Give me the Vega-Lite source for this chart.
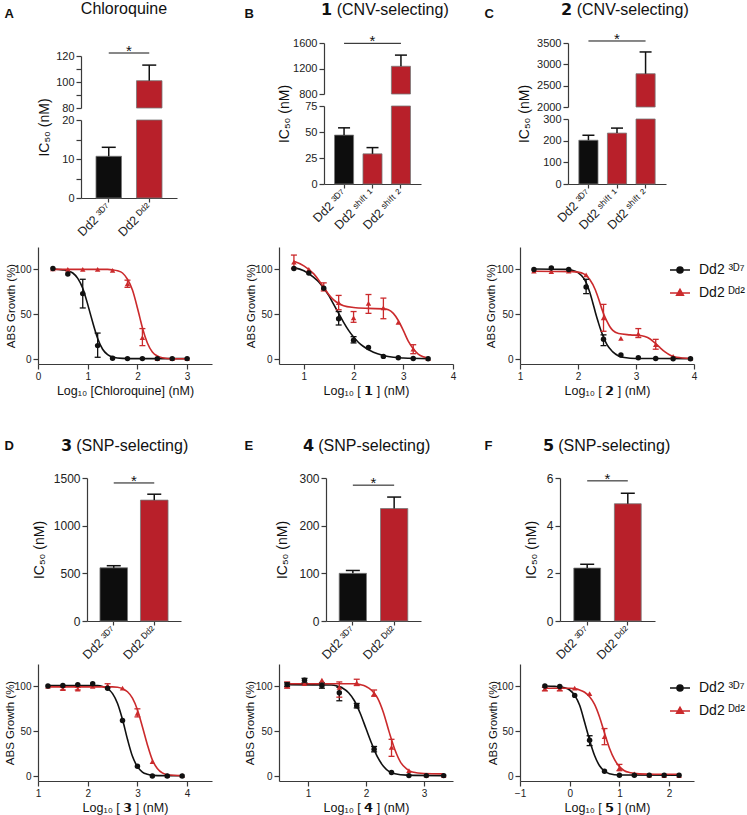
{
"$schema":"https://vega.github.io/schema/vega-lite/v6.json",
"padding":{"left":3,"top":0,"right":2,"bottom":2},
"config":{
 "font":"Liberation Sans",
 "view":{"stroke":null},
 "axis":{"grid":false,"domainColor":"#3a3a3a","domainWidth":1.2,"tickColor":"#3a3a3a","tickWidth":1.2,"tickSize":5,"labelColor":"#222","labelFont":"Liberation Sans","titleFont":"Liberation Sans","titleColor":"#111","titleFontWeight":"normal","labelFontSize":12},
 "text":{"font":"Liberation Sans"},
 "legend":{"labelFont":"Liberation Sans"}
},
"datasets":{
 "bars":[
  {"p":"A","s":"Dd2 ³ᴰ⁷","mean":10.7,"hi":13},
  {"p":"A","s":"Dd2 ᴰᵈ²","mean":101,"hi":113},
  {"p":"B","s":"Dd2 ³ᴰ⁷","mean":47,"hi":54},
  {"p":"B","s":"Dd2 ˢʰⁱᶠᵗ ¹","mean":29,"hi":35},
  {"p":"B","s":"Dd2 ˢʰⁱᶠᵗ ²","mean":1235,"hi":1410},
  {"p":"C","s":"Dd2 ³ᴰ⁷","mean":202,"hi":225},
  {"p":"C","s":"Dd2 ˢʰⁱᶠᵗ ¹","mean":235,"hi":258},
  {"p":"C","s":"Dd2 ˢʰⁱᶠᵗ ²","mean":2780,"hi":3290},
  {"p":"D","s":"Dd2 ³ᴰ⁷","mean":558,"hi":580},
  {"p":"D","s":"Dd2 ᴰᵈ²","mean":1268,"hi":1330},
  {"p":"E","s":"Dd2 ³ᴰ⁷","mean":100,"hi":106},
  {"p":"E","s":"Dd2 ᴰᵈ²","mean":236,"hi":260},
  {"p":"F","s":"Dd2 ³ᴰ⁷","mean":2.22,"hi":2.38},
  {"p":"F","s":"Dd2 ᴰᵈ²","mean":4.92,"hi":5.36}
 ],
 "sig":[
  {"p":"A","from":"Dd2 ³ᴰ⁷","to":"Dd2 ᴰᵈ²","y":122.3,"label":"*"},
  {"p":"B","from":"Dd2 ³ᴰ⁷","to":"Dd2 ˢʰⁱᶠᵗ ²","mid":"Dd2 ˢʰⁱᶠᵗ ¹","y":1595,"label":"*"},
  {"p":"C","from":"Dd2 ³ᴰ⁷","to":"Dd2 ˢʰⁱᶠᵗ ²","mid":"Dd2 ˢʰⁱᶠᵗ ¹","y":3547,"label":"*"},
  {"p":"D","from":"Dd2 ³ᴰ⁷","to":"Dd2 ᴰᵈ²","y":1448,"label":"*"},
  {"p":"E","from":"Dd2 ³ᴰ⁷","to":"Dd2 ᴰᵈ²","y":285,"label":"*"},
  {"p":"F","from":"Dd2 ³ᴰ⁷","to":"Dd2 ᴰᵈ²","y":5.88,"label":"*"}
 ],
 "fit":[
  {"p":"A","s":"Dd2 ³ᴰ⁷","x":0.3,"y":100.5},{"p":"A","s":"Dd2 ³ᴰ⁷","x":0.5,"y":99.5},{"p":"A","s":"Dd2 ³ᴰ⁷","x":0.6,"y":98.5},{"p":"A","s":"Dd2 ³ᴰ⁷","x":0.7,"y":96},{"p":"A","s":"Dd2 ³ᴰ⁷","x":0.8,"y":90},{"p":"A","s":"Dd2 ³ᴰ⁷","x":0.9,"y":79},{"p":"A","s":"Dd2 ³ᴰ⁷","x":1.0,"y":61},{"p":"A","s":"Dd2 ³ᴰ⁷","x":1.05,"y":51},{"p":"A","s":"Dd2 ³ᴰ⁷","x":1.1,"y":41},{"p":"A","s":"Dd2 ³ᴰ⁷","x":1.2,"y":23},{"p":"A","s":"Dd2 ³ᴰ⁷","x":1.3,"y":11},{"p":"A","s":"Dd2 ³ᴰ⁷","x":1.4,"y":5},{"p":"A","s":"Dd2 ³ᴰ⁷","x":1.5,"y":2.3},{"p":"A","s":"Dd2 ³ᴰ⁷","x":1.7,"y":0.8},{"p":"A","s":"Dd2 ³ᴰ⁷","x":2.0,"y":0.5},{"p":"A","s":"Dd2 ³ᴰ⁷","x":3.0,"y":0.5},
  {"p":"A","s":"Dd2 ᴰᵈ²","x":0.3,"y":100},{"p":"A","s":"Dd2 ᴰᵈ²","x":1.4,"y":100},{"p":"A","s":"Dd2 ᴰᵈ²","x":1.5,"y":99.5},{"p":"A","s":"Dd2 ᴰᵈ²","x":1.6,"y":98.5},{"p":"A","s":"Dd2 ᴰᵈ²","x":1.7,"y":96},{"p":"A","s":"Dd2 ᴰᵈ²","x":1.8,"y":89},{"p":"A","s":"Dd2 ᴰᵈ²","x":1.9,"y":77},{"p":"A","s":"Dd2 ᴰᵈ²","x":2.0,"y":57},{"p":"A","s":"Dd2 ᴰᵈ²","x":2.05,"y":46},{"p":"A","s":"Dd2 ᴰᵈ²","x":2.1,"y":35},{"p":"A","s":"Dd2 ᴰᵈ²","x":2.2,"y":18},{"p":"A","s":"Dd2 ᴰᵈ²","x":2.3,"y":8},{"p":"A","s":"Dd2 ᴰᵈ²","x":2.4,"y":3.5},{"p":"A","s":"Dd2 ᴰᵈ²","x":2.5,"y":1.5},{"p":"A","s":"Dd2 ᴰᵈ²","x":2.7,"y":0.4},{"p":"A","s":"Dd2 ᴰᵈ²","x":3.0,"y":0.3},
  {"p":"B","s":"Dd2 ³ᴰ⁷","x":0.8,"y":102},{"p":"B","s":"Dd2 ³ᴰ⁷","x":1.0,"y":98.5},{"p":"B","s":"Dd2 ³ᴰ⁷","x":1.2,"y":91},{"p":"B","s":"Dd2 ³ᴰ⁷","x":1.3,"y":86},{"p":"B","s":"Dd2 ³ᴰ⁷","x":1.4,"y":79},{"p":"B","s":"Dd2 ³ᴰ⁷","x":1.5,"y":71},{"p":"B","s":"Dd2 ³ᴰ⁷","x":1.6,"y":61},{"p":"B","s":"Dd2 ³ᴰ⁷","x":1.7,"y":51},{"p":"B","s":"Dd2 ³ᴰ⁷","x":1.8,"y":41},{"p":"B","s":"Dd2 ³ᴰ⁷","x":1.9,"y":32},{"p":"B","s":"Dd2 ³ᴰ⁷","x":2.0,"y":24.5},{"p":"B","s":"Dd2 ³ᴰ⁷","x":2.1,"y":18.5},{"p":"B","s":"Dd2 ³ᴰ⁷","x":2.2,"y":14},{"p":"B","s":"Dd2 ³ᴰ⁷","x":2.4,"y":7.5},{"p":"B","s":"Dd2 ³ᴰ⁷","x":2.6,"y":4},{"p":"B","s":"Dd2 ³ᴰ⁷","x":2.8,"y":2},{"p":"B","s":"Dd2 ³ᴰ⁷","x":3.0,"y":1.2},{"p":"B","s":"Dd2 ³ᴰ⁷","x":3.5,"y":0.5},
  {"p":"B","s":"Dd2 ᴰᵈ²","x":0.8,"y":109},{"p":"B","s":"Dd2 ᴰᵈ²","x":1.0,"y":104},{"p":"B","s":"Dd2 ᴰᵈ²","x":1.2,"y":95},{"p":"B","s":"Dd2 ᴰᵈ²","x":1.3,"y":88},{"p":"B","s":"Dd2 ᴰᵈ²","x":1.4,"y":80},{"p":"B","s":"Dd2 ᴰᵈ²","x":1.5,"y":72},{"p":"B","s":"Dd2 ᴰᵈ²","x":1.6,"y":66},{"p":"B","s":"Dd2 ᴰᵈ²","x":1.7,"y":62},{"p":"B","s":"Dd2 ᴰᵈ²","x":1.8,"y":59.5},{"p":"B","s":"Dd2 ᴰᵈ²","x":2.0,"y":57.5},{"p":"B","s":"Dd2 ᴰᵈ²","x":2.3,"y":56.5},{"p":"B","s":"Dd2 ᴰᵈ²","x":2.6,"y":56},{"p":"B","s":"Dd2 ᴰᵈ²","x":2.7,"y":55},{"p":"B","s":"Dd2 ᴰᵈ²","x":2.8,"y":51},{"p":"B","s":"Dd2 ᴰᵈ²","x":2.9,"y":43},{"p":"B","s":"Dd2 ᴰᵈ²","x":3.0,"y":32},{"p":"B","s":"Dd2 ᴰᵈ²","x":3.1,"y":20},{"p":"B","s":"Dd2 ᴰᵈ²","x":3.2,"y":11.5},{"p":"B","s":"Dd2 ᴰᵈ²","x":3.3,"y":5.5},{"p":"B","s":"Dd2 ᴰᵈ²","x":3.4,"y":2.5},{"p":"B","s":"Dd2 ᴰᵈ²","x":3.5,"y":1.2},
  {"p":"C","s":"Dd2 ³ᴰ⁷","x":1.24,"y":100.5},{"p":"C","s":"Dd2 ³ᴰ⁷","x":1.8,"y":100},{"p":"C","s":"Dd2 ³ᴰ⁷","x":1.9,"y":99},{"p":"C","s":"Dd2 ³ᴰ⁷","x":2.0,"y":96.5},{"p":"C","s":"Dd2 ³ᴰ⁷","x":2.1,"y":90},{"p":"C","s":"Dd2 ³ᴰ⁷","x":2.15,"y":84},{"p":"C","s":"Dd2 ³ᴰ⁷","x":2.2,"y":75},{"p":"C","s":"Dd2 ³ᴰ⁷","x":2.25,"y":64},{"p":"C","s":"Dd2 ³ᴰ⁷","x":2.3,"y":52},{"p":"C","s":"Dd2 ³ᴰ⁷","x":2.35,"y":41},{"p":"C","s":"Dd2 ³ᴰ⁷","x":2.4,"y":31},{"p":"C","s":"Dd2 ³ᴰ⁷","x":2.45,"y":23},{"p":"C","s":"Dd2 ³ᴰ⁷","x":2.5,"y":16},{"p":"C","s":"Dd2 ³ᴰ⁷","x":2.6,"y":8},{"p":"C","s":"Dd2 ³ᴰ⁷","x":2.7,"y":3.5},{"p":"C","s":"Dd2 ³ᴰ⁷","x":2.8,"y":1.7},{"p":"C","s":"Dd2 ³ᴰ⁷","x":3.0,"y":0.7},{"p":"C","s":"Dd2 ³ᴰ⁷","x":3.94,"y":0.5},
  {"p":"C","s":"Dd2 ᴰᵈ²","x":1.24,"y":98},{"p":"C","s":"Dd2 ᴰᵈ²","x":1.9,"y":97.5},{"p":"C","s":"Dd2 ᴰᵈ²","x":2.0,"y":97},{"p":"C","s":"Dd2 ᴰᵈ²","x":2.1,"y":95},{"p":"C","s":"Dd2 ᴰᵈ²","x":2.2,"y":89},{"p":"C","s":"Dd2 ᴰᵈ²","x":2.3,"y":77},{"p":"C","s":"Dd2 ᴰᵈ²","x":2.35,"y":68},{"p":"C","s":"Dd2 ᴰᵈ²","x":2.4,"y":58},{"p":"C","s":"Dd2 ᴰᵈ²","x":2.45,"y":49},{"p":"C","s":"Dd2 ᴰᵈ²","x":2.5,"y":42},{"p":"C","s":"Dd2 ᴰᵈ²","x":2.55,"y":36},{"p":"C","s":"Dd2 ᴰᵈ²","x":2.6,"y":32},{"p":"C","s":"Dd2 ᴰᵈ²","x":2.7,"y":28.5},{"p":"C","s":"Dd2 ᴰᵈ²","x":2.9,"y":27},{"p":"C","s":"Dd2 ᴰᵈ²","x":3.1,"y":26},{"p":"C","s":"Dd2 ᴰᵈ²","x":3.2,"y":24},{"p":"C","s":"Dd2 ᴰᵈ²","x":3.3,"y":19.5},{"p":"C","s":"Dd2 ᴰᵈ²","x":3.4,"y":13.5},{"p":"C","s":"Dd2 ᴰᵈ²","x":3.5,"y":8},{"p":"C","s":"Dd2 ᴰᵈ²","x":3.6,"y":4},{"p":"C","s":"Dd2 ᴰᵈ²","x":3.7,"y":2},{"p":"C","s":"Dd2 ᴰᵈ²","x":3.94,"y":0.7},
  {"p":"D","s":"Dd2 ³ᴰ⁷","x":1.2,"y":101},{"p":"D","s":"Dd2 ³ᴰ⁷","x":2.2,"y":101},{"p":"D","s":"Dd2 ³ᴰ⁷","x":2.3,"y":100},{"p":"D","s":"Dd2 ³ᴰ⁷","x":2.4,"y":97.5},{"p":"D","s":"Dd2 ³ᴰ⁷","x":2.5,"y":92},{"p":"D","s":"Dd2 ³ᴰ⁷","x":2.6,"y":81},{"p":"D","s":"Dd2 ³ᴰ⁷","x":2.7,"y":63},{"p":"D","s":"Dd2 ³ᴰ⁷","x":2.8,"y":41},{"p":"D","s":"Dd2 ³ᴰ⁷","x":2.9,"y":22},{"p":"D","s":"Dd2 ³ᴰ⁷","x":3.0,"y":10.5},{"p":"D","s":"Dd2 ³ᴰ⁷","x":3.1,"y":4.5},{"p":"D","s":"Dd2 ³ᴰ⁷","x":3.2,"y":2},{"p":"D","s":"Dd2 ³ᴰ⁷","x":3.3,"y":0.8},{"p":"D","s":"Dd2 ³ᴰ⁷","x":3.9,"y":0.3},
  {"p":"D","s":"Dd2 ᴰᵈ²","x":1.2,"y":99.5},{"p":"D","s":"Dd2 ᴰᵈ²","x":2.5,"y":99.5},{"p":"D","s":"Dd2 ᴰᵈ²","x":2.6,"y":99},{"p":"D","s":"Dd2 ᴰᵈ²","x":2.7,"y":97.5},{"p":"D","s":"Dd2 ᴰᵈ²","x":2.8,"y":94},{"p":"D","s":"Dd2 ᴰᵈ²","x":2.9,"y":87},{"p":"D","s":"Dd2 ᴰᵈ²","x":3.0,"y":74},{"p":"D","s":"Dd2 ᴰᵈ²","x":3.1,"y":55},{"p":"D","s":"Dd2 ᴰᵈ²","x":3.2,"y":35},{"p":"D","s":"Dd2 ᴰᵈ²","x":3.3,"y":18},{"p":"D","s":"Dd2 ᴰᵈ²","x":3.4,"y":8.5},{"p":"D","s":"Dd2 ᴰᵈ²","x":3.5,"y":3.5},{"p":"D","s":"Dd2 ᴰᵈ²","x":3.6,"y":1.5},{"p":"D","s":"Dd2 ᴰᵈ²","x":3.9,"y":0.5},
  {"p":"E","s":"Dd2 ³ᴰ⁷","x":0.64,"y":102},{"p":"E","s":"Dd2 ³ᴰ⁷","x":1.4,"y":101.5},{"p":"E","s":"Dd2 ³ᴰ⁷","x":1.5,"y":100.5},{"p":"E","s":"Dd2 ³ᴰ⁷","x":1.6,"y":98},{"p":"E","s":"Dd2 ³ᴰ⁷","x":1.7,"y":93},{"p":"E","s":"Dd2 ³ᴰ⁷","x":1.8,"y":84},{"p":"E","s":"Dd2 ³ᴰ⁷","x":1.9,"y":70},{"p":"E","s":"Dd2 ³ᴰ⁷","x":2.0,"y":53},{"p":"E","s":"Dd2 ³ᴰ⁷","x":2.1,"y":36},{"p":"E","s":"Dd2 ³ᴰ⁷","x":2.2,"y":21},{"p":"E","s":"Dd2 ³ᴰ⁷","x":2.3,"y":11},{"p":"E","s":"Dd2 ³ᴰ⁷","x":2.4,"y":5},{"p":"E","s":"Dd2 ³ᴰ⁷","x":2.5,"y":2.5},{"p":"E","s":"Dd2 ³ᴰ⁷","x":2.7,"y":1},{"p":"E","s":"Dd2 ³ᴰ⁷","x":3.34,"y":0.5},
  {"p":"E","s":"Dd2 ᴰᵈ²","x":0.64,"y":103},{"p":"E","s":"Dd2 ᴰᵈ²","x":1.8,"y":103},{"p":"E","s":"Dd2 ᴰᵈ²","x":1.9,"y":102},{"p":"E","s":"Dd2 ᴰᵈ²","x":2.0,"y":100},{"p":"E","s":"Dd2 ᴰᵈ²","x":2.1,"y":95.5},{"p":"E","s":"Dd2 ᴰᵈ²","x":2.2,"y":87},{"p":"E","s":"Dd2 ᴰᵈ²","x":2.3,"y":71},{"p":"E","s":"Dd2 ᴰᵈ²","x":2.4,"y":49},{"p":"E","s":"Dd2 ᴰᵈ²","x":2.5,"y":29},{"p":"E","s":"Dd2 ᴰᵈ²","x":2.6,"y":15},{"p":"E","s":"Dd2 ᴰᵈ²","x":2.7,"y":8},{"p":"E","s":"Dd2 ᴰᵈ²","x":2.8,"y":4.5},{"p":"E","s":"Dd2 ᴰᵈ²","x":3.0,"y":2.8},{"p":"E","s":"Dd2 ᴰᵈ²","x":3.34,"y":2.5},
  {"p":"F","s":"Dd2 ³ᴰ⁷","x":-0.5,"y":100.5},{"p":"F","s":"Dd2 ³ᴰ⁷","x":-0.3,"y":100},{"p":"F","s":"Dd2 ³ᴰ⁷","x":-0.1,"y":98.5},{"p":"F","s":"Dd2 ³ᴰ⁷","x":0,"y":96},{"p":"F","s":"Dd2 ³ᴰ⁷","x":0.1,"y":90},{"p":"F","s":"Dd2 ³ᴰ⁷","x":0.2,"y":79},{"p":"F","s":"Dd2 ³ᴰ⁷","x":0.3,"y":60},{"p":"F","s":"Dd2 ³ᴰ⁷","x":0.35,"y":50},{"p":"F","s":"Dd2 ³ᴰ⁷","x":0.4,"y":40},{"p":"F","s":"Dd2 ³ᴰ⁷","x":0.5,"y":23},{"p":"F","s":"Dd2 ³ᴰ⁷","x":0.6,"y":11.5},{"p":"F","s":"Dd2 ³ᴰ⁷","x":0.7,"y":5.5},{"p":"F","s":"Dd2 ³ᴰ⁷","x":0.8,"y":2.7},{"p":"F","s":"Dd2 ³ᴰ⁷","x":1.0,"y":1.2},{"p":"F","s":"Dd2 ³ᴰ⁷","x":2.2,"y":1},
  {"p":"F","s":"Dd2 ᴰᵈ²","x":-0.5,"y":98},{"p":"F","s":"Dd2 ᴰᵈ²","x":0,"y":98},{"p":"F","s":"Dd2 ᴰᵈ²","x":0.1,"y":97.5},{"p":"F","s":"Dd2 ᴰᵈ²","x":0.2,"y":96},{"p":"F","s":"Dd2 ᴰᵈ²","x":0.3,"y":93.5},{"p":"F","s":"Dd2 ᴰᵈ²","x":0.4,"y":88.5},{"p":"F","s":"Dd2 ᴰᵈ²","x":0.5,"y":80},{"p":"F","s":"Dd2 ᴰᵈ²","x":0.6,"y":66},{"p":"F","s":"Dd2 ᴰᵈ²","x":0.7,"y":48},{"p":"F","s":"Dd2 ᴰᵈ²","x":0.8,"y":31},{"p":"F","s":"Dd2 ᴰᵈ²","x":0.9,"y":18.5},{"p":"F","s":"Dd2 ᴰᵈ²","x":1.0,"y":10.5},{"p":"F","s":"Dd2 ᴰᵈ²","x":1.1,"y":6},{"p":"F","s":"Dd2 ᴰᵈ²","x":1.2,"y":4},{"p":"F","s":"Dd2 ᴰᵈ²","x":1.4,"y":2.5},{"p":"F","s":"Dd2 ᴰᵈ²","x":1.7,"y":2},{"p":"F","s":"Dd2 ᴰᵈ²","x":2.2,"y":2}
 ],
 "pts":[
  {"p":"A","s":"Dd2 ᴰᵈ²","x":0.3,"y":100.5},{"p":"A","s":"Dd2 ᴰᵈ²","x":0.6,"y":100},{"p":"A","s":"Dd2 ᴰᵈ²","x":0.9,"y":100},{"p":"A","s":"Dd2 ᴰᵈ²","x":1.2,"y":100},{"p":"A","s":"Dd2 ᴰᵈ²","x":1.5,"y":99},{"p":"A","s":"Dd2 ᴰᵈ²","x":1.8,"y":84,"lo":80,"hi":88},{"p":"A","s":"Dd2 ᴰᵈ²","x":2.1,"y":24,"lo":15,"hi":34},{"p":"A","s":"Dd2 ᴰᵈ²","x":2.4,"y":0.5},{"p":"A","s":"Dd2 ᴰᵈ²","x":2.7,"y":0.5},{"p":"A","s":"Dd2 ᴰᵈ²","x":3.0,"y":0.5},
  {"p":"A","s":"Dd2 ³ᴰ⁷","x":0.3,"y":101},{"p":"A","s":"Dd2 ³ᴰ⁷","x":0.6,"y":95},{"p":"A","s":"Dd2 ³ᴰ⁷","x":0.9,"y":73,"lo":57,"hi":89},{"p":"A","s":"Dd2 ³ᴰ⁷","x":1.2,"y":15,"lo":2,"hi":29},{"p":"A","s":"Dd2 ³ᴰ⁷","x":1.5,"y":1},{"p":"A","s":"Dd2 ³ᴰ⁷","x":1.8,"y":0.5},{"p":"A","s":"Dd2 ³ᴰ⁷","x":2.1,"y":0.5},{"p":"A","s":"Dd2 ³ᴰ⁷","x":2.4,"y":0.5},{"p":"A","s":"Dd2 ³ᴰ⁷","x":2.7,"y":0.5},{"p":"A","s":"Dd2 ³ᴰ⁷","x":3.0,"y":0.5},
  {"p":"B","s":"Dd2 ᴰᵈ²","x":0.8,"y":108,"lo":101,"hi":116},{"p":"B","s":"Dd2 ᴰᵈ²","x":1.1,"y":100},{"p":"B","s":"Dd2 ᴰᵈ²","x":1.4,"y":80,"lo":76,"hi":85},{"p":"B","s":"Dd2 ᴰᵈ²","x":1.7,"y":63,"lo":55,"hi":71},{"p":"B","s":"Dd2 ᴰᵈ²","x":2.0,"y":46,"lo":41,"hi":53},{"p":"B","s":"Dd2 ᴰᵈ²","x":2.3,"y":62,"lo":51,"hi":72},{"p":"B","s":"Dd2 ᴰᵈ²","x":2.6,"y":57,"lo":45,"hi":68},{"p":"B","s":"Dd2 ᴰᵈ²","x":2.9,"y":41},{"p":"B","s":"Dd2 ᴰᵈ²","x":3.2,"y":11,"lo":6,"hi":16},{"p":"B","s":"Dd2 ᴰᵈ²","x":3.5,"y":0.5},
  {"p":"B","s":"Dd2 ³ᴰ⁷","x":0.8,"y":101},{"p":"B","s":"Dd2 ³ᴰ⁷","x":1.1,"y":96},{"p":"B","s":"Dd2 ³ᴰ⁷","x":1.4,"y":79},{"p":"B","s":"Dd2 ³ᴰ⁷","x":1.7,"y":45,"lo":38,"hi":53},{"p":"B","s":"Dd2 ³ᴰ⁷","x":2.0,"y":21,"lo":18,"hi":25},{"p":"B","s":"Dd2 ³ᴰ⁷","x":2.3,"y":13},{"p":"B","s":"Dd2 ³ᴰ⁷","x":2.6,"y":3},{"p":"B","s":"Dd2 ³ᴰ⁷","x":2.9,"y":1.5},{"p":"B","s":"Dd2 ³ᴰ⁷","x":3.2,"y":0.7},{"p":"B","s":"Dd2 ³ᴰ⁷","x":3.5,"y":0.4},
  {"p":"C","s":"Dd2 ᴰᵈ²","x":1.24,"y":98},{"p":"C","s":"Dd2 ᴰᵈ²","x":1.54,"y":97.5},{"p":"C","s":"Dd2 ᴰᵈ²","x":1.84,"y":98},{"p":"C","s":"Dd2 ᴰᵈ²","x":2.14,"y":94},{"p":"C","s":"Dd2 ᴰᵈ²","x":2.44,"y":46,"lo":31,"hi":61},{"p":"C","s":"Dd2 ᴰᵈ²","x":2.74,"y":23},{"p":"C","s":"Dd2 ᴰᵈ²","x":3.04,"y":28,"lo":24,"hi":34},{"p":"C","s":"Dd2 ᴰᵈ²","x":3.34,"y":16,"lo":11,"hi":22},{"p":"C","s":"Dd2 ᴰᵈ²","x":3.64,"y":3},{"p":"C","s":"Dd2 ᴰᵈ²","x":3.94,"y":1},
  {"p":"C","s":"Dd2 ³ᴰ⁷","x":1.24,"y":100},{"p":"C","s":"Dd2 ³ᴰ⁷","x":1.54,"y":101.5},{"p":"C","s":"Dd2 ³ᴰ⁷","x":1.84,"y":100},{"p":"C","s":"Dd2 ³ᴰ⁷","x":2.14,"y":80.5,"lo":73,"hi":89},{"p":"C","s":"Dd2 ³ᴰ⁷","x":2.44,"y":22,"lo":15,"hi":27},{"p":"C","s":"Dd2 ³ᴰ⁷","x":2.74,"y":4.5},{"p":"C","s":"Dd2 ³ᴰ⁷","x":3.04,"y":1.5},{"p":"C","s":"Dd2 ³ᴰ⁷","x":3.34,"y":0.7},{"p":"C","s":"Dd2 ³ᴰ⁷","x":3.64,"y":0.4},{"p":"C","s":"Dd2 ³ᴰ⁷","x":3.94,"y":0.4},
  {"p":"D","s":"Dd2 ᴰᵈ²","x":1.2,"y":100},{"p":"D","s":"Dd2 ᴰᵈ²","x":1.5,"y":97.5,"lo":96,"hi":99},{"p":"D","s":"Dd2 ᴰᵈ²","x":1.8,"y":97,"lo":96,"hi":99},{"p":"D","s":"Dd2 ᴰᵈ²","x":2.1,"y":100},{"p":"D","s":"Dd2 ᴰᵈ²","x":2.4,"y":101,"lo":99,"hi":103},{"p":"D","s":"Dd2 ᴰᵈ²","x":2.7,"y":98},{"p":"D","s":"Dd2 ᴰᵈ²","x":3.0,"y":70,"lo":66,"hi":75},{"p":"D","s":"Dd2 ᴰᵈ²","x":3.3,"y":16},{"p":"D","s":"Dd2 ᴰᵈ²","x":3.6,"y":0.5},{"p":"D","s":"Dd2 ᴰᵈ²","x":3.9,"y":0.5},
  {"p":"D","s":"Dd2 ³ᴰ⁷","x":1.2,"y":100.5},{"p":"D","s":"Dd2 ³ᴰ⁷","x":1.5,"y":101},{"p":"D","s":"Dd2 ³ᴰ⁷","x":1.8,"y":102},{"p":"D","s":"Dd2 ³ᴰ⁷","x":2.1,"y":103},{"p":"D","s":"Dd2 ³ᴰ⁷","x":2.4,"y":98},{"p":"D","s":"Dd2 ³ᴰ⁷","x":2.7,"y":62},{"p":"D","s":"Dd2 ³ᴰ⁷","x":3.0,"y":11},{"p":"D","s":"Dd2 ³ᴰ⁷","x":3.3,"y":0},{"p":"D","s":"Dd2 ³ᴰ⁷","x":3.6,"y":0},{"p":"D","s":"Dd2 ³ᴰ⁷","x":3.9,"y":0},
  {"p":"E","s":"Dd2 ᴰᵈ²","x":0.64,"y":101,"lo":98,"hi":105},{"p":"E","s":"Dd2 ᴰᵈ²","x":0.94,"y":103},{"p":"E","s":"Dd2 ᴰᵈ²","x":1.24,"y":107},{"p":"E","s":"Dd2 ᴰᵈ²","x":1.54,"y":99,"lo":88,"hi":105},{"p":"E","s":"Dd2 ᴰᵈ²","x":1.84,"y":104,"lo":101,"hi":108},{"p":"E","s":"Dd2 ᴰᵈ²","x":2.14,"y":92,"lo":89,"hi":96},{"p":"E","s":"Dd2 ᴰᵈ²","x":2.44,"y":32,"lo":22,"hi":41},{"p":"E","s":"Dd2 ᴰᵈ²","x":2.74,"y":6},{"p":"E","s":"Dd2 ᴰᵈ²","x":3.04,"y":1},{"p":"E","s":"Dd2 ᴰᵈ²","x":3.34,"y":0.5},
  {"p":"E","s":"Dd2 ³ᴰ⁷","x":0.64,"y":102,"lo":100,"hi":104},{"p":"E","s":"Dd2 ³ᴰ⁷","x":0.94,"y":107,"lo":104,"hi":109},{"p":"E","s":"Dd2 ³ᴰ⁷","x":1.24,"y":101,"lo":98,"hi":104},{"p":"E","s":"Dd2 ³ᴰ⁷","x":1.54,"y":93,"lo":84,"hi":99},{"p":"E","s":"Dd2 ³ᴰ⁷","x":1.84,"y":78.5,"lo":76,"hi":81},{"p":"E","s":"Dd2 ³ᴰ⁷","x":2.14,"y":30,"lo":27,"hi":33},{"p":"E","s":"Dd2 ³ᴰ⁷","x":2.44,"y":4},{"p":"E","s":"Dd2 ³ᴰ⁷","x":2.74,"y":0.5},{"p":"E","s":"Dd2 ³ᴰ⁷","x":3.04,"y":0.5},{"p":"E","s":"Dd2 ³ᴰ⁷","x":3.34,"y":0.5},
  {"p":"F","s":"Dd2 ᴰᵈ²","x":-0.5,"y":97.5,"lo":95,"hi":99},{"p":"F","s":"Dd2 ᴰᵈ²","x":-0.2,"y":97.5,"lo":95,"hi":99},{"p":"F","s":"Dd2 ᴰᵈ²","x":0.1,"y":98},{"p":"F","s":"Dd2 ᴰᵈ²","x":0.4,"y":92},{"p":"F","s":"Dd2 ᴰᵈ²","x":0.7,"y":44,"lo":35,"hi":53},{"p":"F","s":"Dd2 ᴰᵈ²","x":1.0,"y":9,"lo":6,"hi":13},{"p":"F","s":"Dd2 ᴰᵈ²","x":1.3,"y":2.5},{"p":"F","s":"Dd2 ᴰᵈ²","x":1.6,"y":1},{"p":"F","s":"Dd2 ᴰᵈ²","x":1.9,"y":0.5},{"p":"F","s":"Dd2 ᴰᵈ²","x":2.2,"y":0.5},
  {"p":"F","s":"Dd2 ³ᴰ⁷","x":-0.5,"y":100.5},{"p":"F","s":"Dd2 ³ᴰ⁷","x":-0.2,"y":100},{"p":"F","s":"Dd2 ³ᴰ⁷","x":0.1,"y":90},{"p":"F","s":"Dd2 ³ᴰ⁷","x":0.4,"y":40,"lo":34,"hi":45},{"p":"F","s":"Dd2 ³ᴰ⁷","x":0.7,"y":5.5},{"p":"F","s":"Dd2 ³ᴰ⁷","x":1.0,"y":1},{"p":"F","s":"Dd2 ³ᴰ⁷","x":1.3,"y":1},{"p":"F","s":"Dd2 ³ᴰ⁷","x":1.6,"y":1},{"p":"F","s":"Dd2 ³ᴰ⁷","x":1.9,"y":1},{"p":"F","s":"Dd2 ³ᴰ⁷","x":2.2,"y":1}
 ]
},
"columns":3,
"spacing":{"row":43,"column":67},
"bounds":"flush",
"align":"each",
"resolve":{"scale":{"color":"independent","shape":"independent"}},
"concat":[
 {
  "width":174,"height":161,
  "resolve":{"scale":{"y":"independent"},"axis":{"y":"independent"}},
  "layer":[
   {"layer":[
    {"data":{"name":"bars"},"transform":[{"filter":"datum.p=='A' && datum.mean>80"}],"mark":{"type":"bar","stroke":"#777","strokeWidth":0.8},
     "encoding":{"x":{"field":"s","type":"nominal","scale":{"domain":["Dd2 ³ᴰ⁷","Dd2 ᴰᵈ²"],"range":[43,139],"paddingInner":0.37,"paddingOuter":0.37}},
      "y":{"field":"mean","type":"quantitative","scale":{"domain":[80,120],"range":[65,13],"nice":false,"zero":false},"axis":{"orient":"left","offset":-43,"values":[80,90,100,110,120],"labelExpr":"datum.value % 20 == 0 ? datum.label : ''","labelFontSize":11,"title":"Chloroquine","titleX":42.5,"titleY":-29.5,"titleAngle":0,"titleAlign":"center","titleBaseline":"alphabetic","titleFontSize":16}},
      "y2":{"datum":80},
      "color":{"field":"s","type":"nominal","scale":{"domain":["Dd2 ³ᴰ⁷","Dd2 ᴰᵈ²"],"range":["#0d0d0d","#b8202a"]},"legend":null}}},
    {"data":{"name":"bars"},"transform":[{"filter":"datum.p=='A' && datum.mean>80"}],"mark":{"type":"rule","color":"#111","strokeWidth":1.5},
     "encoding":{"x":{"field":"s","type":"nominal"},"y":{"field":"mean","type":"quantitative"},"y2":{"field":"hi"}}},
    {"data":{"name":"bars"},"transform":[{"filter":"datum.p=='A' && datum.mean>80"}],"mark":{"type":"rule","color":"#111","strokeWidth":1.5,"xOffset":-7,"x2Offset":7},
     "encoding":{"x":{"field":"s","type":"nominal"},"x2":{"field":"s"},"y":{"field":"hi","type":"quantitative"}}},
    {"data":{"name":"sig"},"transform":[{"filter":"datum.p=='A'"}],"mark":{"type":"rule","color":"#111","strokeWidth":1},
     "encoding":{"x":{"field":"from","type":"nominal"},"x2":{"field":"to"},"y":{"field":"y","type":"quantitative"}}},
    {"data":{"name":"sig"},"transform":[{"filter":"datum.p=='A'"}],"mark":{"type":"text","fontSize":15,"dy":3,"baseline":"alphabetic","color":"#111"},
     "encoding":{"x":{"field":"from","type":"nominal","bandPosition":1.294},"y":{"field":"y","type":"quantitative"},"text":{"field":"label"}}}
   ]},
   {"layer":[
    {"data":{"name":"bars"},"transform":[{"filter":"datum.p=='A'"}],"mark":{"type":"bar","stroke":"#777","strokeWidth":0.8},
     "encoding":{"x":{"field":"s","type":"nominal","scale":{"domain":["Dd2 ³ᴰ⁷","Dd2 ᴰᵈ²"],"range":[43,139],"paddingInner":0.37,"paddingOuter":0.37},"axis":{"offset":-6,"labelAngle":-45,"labelBaseline":"middle","labelFontSize":12.5,"labelPadding":3,"tickSize":4,"title":"A","titleX":-34,"titleY":-181,"titleAngle":0,"titleAlign":"left","titleBaseline":"alphabetic","titleFontWeight":"bold","titleFontSize":13}},
      "y":{"field":"mean","type":"quantitative","scale":{"domain":[0,20],"range":[155,77],"nice":false,"zero":false,"clamp":true},"axis":{"orient":"left","offset":-43,"values":[0,5,10,15,20],"labelExpr":"datum.value % 10 == 0 ? datum.label : ''","labelFontSize":11,"title":"IC₅₀ (nM)","titleFontSize":14,"titleX":-30,"titleY":84}},
      "color":{"field":"s","type":"nominal","scale":{"domain":["Dd2 ³ᴰ⁷","Dd2 ᴰᵈ²"],"range":["#0d0d0d","#b8202a"]},"legend":null}}},
    {"data":{"name":"bars"},"transform":[{"filter":"datum.p=='A' && datum.hi<=20"}],"mark":{"type":"rule","color":"#111","strokeWidth":1.5},
     "encoding":{"x":{"field":"s","type":"nominal"},"y":{"field":"mean","type":"quantitative"},"y2":{"field":"hi"}}},
    {"data":{"name":"bars"},"transform":[{"filter":"datum.p=='A' && datum.hi<=20"}],"mark":{"type":"rule","color":"#111","strokeWidth":1.5,"xOffset":-7,"x2Offset":7},
     "encoding":{"x":{"field":"s","type":"nominal"},"x2":{"field":"s"},"y":{"field":"hi","type":"quantitative"}}}
   ]}
  ]
 },
 {
  "width":174,"height":141,
  "resolve":{"scale":{"y":"independent"},"axis":{"y":"independent"}},
  "layer":[
   {"layer":[
    {"data":{"name":"bars"},"transform":[{"filter":"datum.p=='B' && datum.mean>800"}],"mark":{"type":"bar","stroke":"#777","strokeWidth":0.8},
     "encoding":{"x":{"field":"s","type":"nominal","scale":{"domain":["Dd2 ³ᴰ⁷","Dd2 ˢʰⁱᶠᵗ ¹","Dd2 ˢʰⁱᶠᵗ ²"],"range":[45,142],"paddingInner":0.33,"paddingOuter":0.37}},
      "y":{"field":"mean","type":"quantitative","scale":{"domain":[800,1600],"range":[51,0],"nice":false,"zero":false},"axis":{"orient":"left","offset":-45,"values":[800,1000,1200,1400,1600],"format":"d","labelExpr":"datum.value % 400 == 0 ? datum.label : ''","labelFontSize":11,"title":"𝟭 (CNV-selecting)","titleX":60.5,"titleY":-29,"titleAngle":0,"titleAlign":"center","titleBaseline":"alphabetic","titleFontSize":16}},
      "y2":{"datum":800},
      "color":{"field":"s","type":"nominal","scale":{"domain":["Dd2 ³ᴰ⁷","Dd2 ˢʰⁱᶠᵗ ¹","Dd2 ˢʰⁱᶠᵗ ²"],"range":["#0d0d0d","#b8202a","#b8202a"]},"legend":null}}},
    {"data":{"name":"bars"},"transform":[{"filter":"datum.p=='B' && datum.mean>800"}],"mark":{"type":"rule","color":"#111","strokeWidth":1.5},
     "encoding":{"x":{"field":"s","type":"nominal"},"y":{"field":"mean","type":"quantitative"},"y2":{"field":"hi"}}},
    {"data":{"name":"bars"},"transform":[{"filter":"datum.p=='B' && datum.mean>800"}],"mark":{"type":"rule","color":"#111","strokeWidth":1.5,"xOffset":-6,"x2Offset":6},
     "encoding":{"x":{"field":"s","type":"nominal"},"x2":{"field":"s"},"y":{"field":"hi","type":"quantitative"}}},
    {"data":{"name":"sig"},"transform":[{"filter":"datum.p=='B'"}],"mark":{"type":"rule","color":"#111","strokeWidth":1},
     "encoding":{"x":{"field":"from","type":"nominal"},"x2":{"field":"to"},"y":{"field":"y","type":"quantitative"}}},
    {"data":{"name":"sig"},"transform":[{"filter":"datum.p=='B'"}],"mark":{"type":"text","fontSize":15,"dy":3,"baseline":"alphabetic","color":"#111"},
     "encoding":{"x":{"field":"mid","type":"nominal"},"y":{"field":"y","type":"quantitative"},"text":{"field":"label"}}}
   ]},
   {"layer":[
    {"data":{"name":"bars"},"transform":[{"filter":"datum.p=='B'"}],"mark":{"type":"bar","stroke":"#777","strokeWidth":0.8},
     "encoding":{"x":{"field":"s","type":"nominal","scale":{"domain":["Dd2 ³ᴰ⁷","Dd2 ˢʰⁱᶠᵗ ¹","Dd2 ˢʰⁱᶠᵗ ²"],"range":[45,142],"paddingInner":0.33,"paddingOuter":0.37},"axis":{"labelAngle":-45,"labelBaseline":"middle","labelFontSize":12.5,"labelPadding":3,"tickSize":4,"title":"B","titleX":-35,"titleY":-167,"titleAngle":0,"titleAlign":"left","titleBaseline":"alphabetic","titleFontWeight":"bold","titleFontSize":13}},
      "y":{"field":"mean","type":"quantitative","scale":{"domain":[0,75],"range":[141,63],"nice":false,"zero":false,"clamp":true},"axis":{"orient":"left","offset":-45,"values":[0,25,50,75],"labelFontSize":11,"title":"IC₅₀ (nM)","titleFontSize":14,"titleX":-33,"titleY":70.5}},
      "color":{"field":"s","type":"nominal","scale":{"domain":["Dd2 ³ᴰ⁷","Dd2 ˢʰⁱᶠᵗ ¹","Dd2 ˢʰⁱᶠᵗ ²"],"range":["#0d0d0d","#b8202a","#b8202a"]},"legend":null}}},
    {"data":{"name":"bars"},"transform":[{"filter":"datum.p=='B' && datum.hi<=75"}],"mark":{"type":"rule","color":"#111","strokeWidth":1.5},
     "encoding":{"x":{"field":"s","type":"nominal"},"y":{"field":"mean","type":"quantitative"},"y2":{"field":"hi"}}},
    {"data":{"name":"bars"},"transform":[{"filter":"datum.p=='B' && datum.hi<=75"}],"mark":{"type":"rule","color":"#111","strokeWidth":1.5,"xOffset":-6,"x2Offset":6},
     "encoding":{"x":{"field":"s","type":"nominal"},"x2":{"field":"s"},"y":{"field":"hi","type":"quantitative"}}}
   ]}
  ]
 },
 {
  "width":174,"height":141,
  "resolve":{"scale":{"y":"independent"},"axis":{"y":"independent"}},
  "layer":[
   {"layer":[
    {"data":{"name":"bars"},"transform":[{"filter":"datum.p=='C' && datum.mean>2000"}],"mark":{"type":"bar","stroke":"#777","strokeWidth":0.8},
     "encoding":{"x":{"field":"s","type":"nominal","scale":{"domain":["Dd2 ³ᴰ⁷","Dd2 ˢʰⁱᶠᵗ ¹","Dd2 ˢʰⁱᶠᵗ ²"],"range":[48,146],"paddingInner":0.33,"paddingOuter":0.38}},
      "y":{"field":"mean","type":"quantitative","scale":{"domain":[2000,3500],"range":[64,0],"nice":false,"zero":false},"axis":{"orient":"left","offset":-48,"values":[2000,2250,2500,2750,3000,3250,3500],"format":"d","labelExpr":"datum.value % 500 == 0 ? datum.label : ''","labelFontSize":11,"title":"𝟮 (CNV-selecting)","titleX":56.5,"titleY":-29,"titleAngle":0,"titleAlign":"center","titleBaseline":"alphabetic","titleFontSize":16}},
      "y2":{"datum":2000},
      "color":{"field":"s","type":"nominal","scale":{"domain":["Dd2 ³ᴰ⁷","Dd2 ˢʰⁱᶠᵗ ¹","Dd2 ˢʰⁱᶠᵗ ²"],"range":["#0d0d0d","#b8202a","#b8202a"]},"legend":null}}},
    {"data":{"name":"bars"},"transform":[{"filter":"datum.p=='C' && datum.mean>2000"}],"mark":{"type":"rule","color":"#111","strokeWidth":1.5},
     "encoding":{"x":{"field":"s","type":"nominal"},"y":{"field":"mean","type":"quantitative"},"y2":{"field":"hi"}}},
    {"data":{"name":"bars"},"transform":[{"filter":"datum.p=='C' && datum.mean>2000"}],"mark":{"type":"rule","color":"#111","strokeWidth":1.5,"xOffset":-6,"x2Offset":6},
     "encoding":{"x":{"field":"s","type":"nominal"},"x2":{"field":"s"},"y":{"field":"hi","type":"quantitative"}}},
    {"data":{"name":"sig"},"transform":[{"filter":"datum.p=='C'"}],"mark":{"type":"rule","color":"#111","strokeWidth":1},
     "encoding":{"x":{"field":"from","type":"nominal"},"x2":{"field":"to"},"y":{"field":"y","type":"quantitative"}}},
    {"data":{"name":"sig"},"transform":[{"filter":"datum.p=='C'"}],"mark":{"type":"text","fontSize":15,"dy":3,"baseline":"alphabetic","color":"#111"},
     "encoding":{"x":{"field":"mid","type":"nominal"},"y":{"field":"y","type":"quantitative"},"text":{"field":"label"}}}
   ]},
   {"layer":[
    {"data":{"name":"bars"},"transform":[{"filter":"datum.p=='C'"}],"mark":{"type":"bar","stroke":"#777","strokeWidth":0.8},
     "encoding":{"x":{"field":"s","type":"nominal","scale":{"domain":["Dd2 ³ᴰ⁷","Dd2 ˢʰⁱᶠᵗ ¹","Dd2 ˢʰⁱᶠᵗ ²"],"range":[48,146],"paddingInner":0.33,"paddingOuter":0.38},"axis":{"labelAngle":-45,"labelBaseline":"middle","labelFontSize":12.5,"labelPadding":3,"tickSize":4,"title":"C","titleX":-36,"titleY":-167,"titleAngle":0,"titleAlign":"left","titleBaseline":"alphabetic","titleFontWeight":"bold","titleFontSize":13}},
      "y":{"field":"mean","type":"quantitative","scale":{"domain":[0,300],"range":[141,76],"nice":false,"zero":false,"clamp":true},"axis":{"orient":"left","offset":-48,"values":[0,50,100,150,200,250,300],"labelExpr":"datum.value % 100 == 0 ? datum.label : ''","labelFontSize":11,"title":"IC₅₀ (nM)","titleFontSize":14,"titleX":-37,"titleY":70.5}},
      "color":{"field":"s","type":"nominal","scale":{"domain":["Dd2 ³ᴰ⁷","Dd2 ˢʰⁱᶠᵗ ¹","Dd2 ˢʰⁱᶠᵗ ²"],"range":["#0d0d0d","#b8202a","#b8202a"]},"legend":null}}},
    {"data":{"name":"bars"},"transform":[{"filter":"datum.p=='C' && datum.hi<=300"}],"mark":{"type":"rule","color":"#111","strokeWidth":1.5},
     "encoding":{"x":{"field":"s","type":"nominal"},"y":{"field":"mean","type":"quantitative"},"y2":{"field":"hi"}}},
    {"data":{"name":"bars"},"transform":[{"filter":"datum.p=='C' && datum.hi<=300"}],"mark":{"type":"rule","color":"#111","strokeWidth":1.5,"xOffset":-6,"x2Offset":6},
     "encoding":{"x":{"field":"s","type":"nominal"},"x2":{"field":"s"},"y":{"field":"hi","type":"quantitative"}}}
   ]}
  ]
 },
 {
  "width":174,"height":117,
  "encoding":{
   "x":{"field":"x","type":"quantitative","scale":{"domain":[0,3.5],"nice":false,"zero":false},"axis":{"values":[0,1,2,3],"labelFlush":false,"labelFontSize":10,"labelPadding":2,"title":"Log₁₀ [Chloroquine] (nM)","titleFontSize":12.5,"titlePadding":3}},
   "y":{"field":"y","type":"quantitative","scale":{"domain":[-5.5,125],"nice":false,"zero":false},"axis":{"values":[0,50,100],"labelFontSize":10,"labelPadding":2,"title":"ABS Growth (%)","titleFontSize":11.5,"titleX":-22}},
   "color":{"field":"s","type":"nominal","scale":{"domain":["Dd2 ³ᴰ⁷","Dd2 ᴰᵈ²"],"range":["#111111","#cb2a2c"]},"legend":null}
  },
  "layer":[
   {"data":{"name":"fit"},"transform":[{"filter":"datum.p=='A'"}],"mark":{"type":"line","interpolate":"monotone","strokeWidth":1.6}},
   {"data":{"name":"pts"},"transform":[{"filter":"datum.p=='A' && datum.lo != null"}],"mark":{"type":"rule","strokeWidth":1.3},"encoding":{"y":{"field":"lo","type":"quantitative"},"y2":{"field":"hi"}}},
   {"data":{"name":"pts"},"transform":[{"filter":"datum.p=='A' && datum.lo != null"}],"mark":{"type":"rule","strokeWidth":1.3,"xOffset":-3,"x2Offset":3},"encoding":{"x2":{"field":"x"},"y":{"field":"lo","type":"quantitative"}}},
   {"data":{"name":"pts"},"transform":[{"filter":"datum.p=='A' && datum.lo != null"}],"mark":{"type":"rule","strokeWidth":1.3,"xOffset":-3,"x2Offset":3},"encoding":{"x2":{"field":"x"},"y":{"field":"hi","type":"quantitative"}}},
   {"data":{"name":"pts"},"transform":[{"filter":"datum.p=='A' && datum.s=='Dd2 ᴰᵈ²'"}],"mark":{"type":"point","shape":"triangle-up","filled":true,"size":30,"opacity":1}},
   {"data":{"name":"pts"},"transform":[{"filter":"datum.p=='A' && datum.s=='Dd2 ³ᴰ⁷'"}],"mark":{"type":"point","shape":"circle","filled":true,"size":30,"opacity":1}}
  ]
 },
 {
  "width":174,"height":117,
  "encoding":{
   "x":{"field":"x","type":"quantitative","scale":{"domain":[0.5,4],"nice":false,"zero":false},"axis":{"values":[1,2,3,4],"labelFlush":false,"labelFontSize":10,"labelPadding":2,"title":"Log₁₀ [ 𝟭 ] (nM)","titleFontSize":12.5,"titlePadding":3}},
   "y":{"field":"y","type":"quantitative","scale":{"domain":[-5.5,125],"nice":false,"zero":false},"axis":{"values":[0,50,100],"labelFontSize":10,"labelPadding":2,"title":"ABS Growth (%)","titleFontSize":11.5,"titleX":-23}},
   "color":{"field":"s","type":"nominal","scale":{"domain":["Dd2 ³ᴰ⁷","Dd2 ᴰᵈ²"],"range":["#111111","#cb2a2c"]},"legend":null}
  },
  "layer":[
   {"data":{"name":"fit"},"transform":[{"filter":"datum.p=='B'"}],"mark":{"type":"line","interpolate":"monotone","strokeWidth":1.6}},
   {"data":{"name":"pts"},"transform":[{"filter":"datum.p=='B' && datum.lo != null"}],"mark":{"type":"rule","strokeWidth":1.3},"encoding":{"y":{"field":"lo","type":"quantitative"},"y2":{"field":"hi"}}},
   {"data":{"name":"pts"},"transform":[{"filter":"datum.p=='B' && datum.lo != null"}],"mark":{"type":"rule","strokeWidth":1.3,"xOffset":-3,"x2Offset":3},"encoding":{"x2":{"field":"x"},"y":{"field":"lo","type":"quantitative"}}},
   {"data":{"name":"pts"},"transform":[{"filter":"datum.p=='B' && datum.lo != null"}],"mark":{"type":"rule","strokeWidth":1.3,"xOffset":-3,"x2Offset":3},"encoding":{"x2":{"field":"x"},"y":{"field":"hi","type":"quantitative"}}},
   {"data":{"name":"pts"},"transform":[{"filter":"datum.p=='B' && datum.s=='Dd2 ᴰᵈ²'"}],"mark":{"type":"point","shape":"triangle-up","filled":true,"size":30,"opacity":1}},
   {"data":{"name":"pts"},"transform":[{"filter":"datum.p=='B' && datum.s=='Dd2 ³ᴰ⁷'"}],"mark":{"type":"point","shape":"circle","filled":true,"size":30,"opacity":1}}
  ]
 },
 {
  "width":174,"height":117,
  "encoding":{
   "x":{"field":"x","type":"quantitative","scale":{"domain":[1,4],"nice":false,"zero":false},"axis":{"values":[1,2,3,4],"labelFlush":false,"labelFontSize":10,"labelPadding":2,"title":"Log₁₀ [ 𝟮 ] (nM)","titleFontSize":12.5,"titlePadding":3}},
   "y":{"field":"y","type":"quantitative","scale":{"domain":[-5.5,125],"nice":false,"zero":false},"axis":{"values":[0,50,100],"labelFontSize":10,"labelPadding":2,"title":"ABS Growth (%)","titleFontSize":11.5,"titleX":-24}},
   "color":{"field":"s","type":"nominal","scale":{"domain":["Dd2 ³ᴰ⁷","Dd2 ᴰᵈ²"],"range":["#111111","#cb2a2c"]},"legend":{"orient":"none","legendX":149,"legendY":12,"title":null,"symbolSize":400,"labelFontSize":14,"labelColor":"#111","labelOffset":8,"rowPadding":5,"padding":0,"encode":{"symbols":{"update":{"shape":{"signal":"datum.index === 0 ? 'M-1,0H1M0.3,0A0.3,0.3 0 1 1 -0.3,0A0.3,0.3 0 1 1 0.3,0Z' : 'M-1,0H1M0,-0.36L0.33,0.22L-0.33,0.22Z'"},"fill":{"signal":"datum.index === 0 ? '#111111' : '#cb2a2c'"},"stroke":{"signal":"datum.index === 0 ? '#111111' : '#cb2a2c'"},"strokeWidth":{"value":1.6},"opacity":{"value":1}}}}}}
  },
  "layer":[
   {"data":{"name":"fit"},"transform":[{"filter":"datum.p=='C'"}],"mark":{"type":"line","interpolate":"monotone","strokeWidth":1.6}},
   {"data":{"name":"pts"},"transform":[{"filter":"datum.p=='C' && datum.lo != null"}],"mark":{"type":"rule","strokeWidth":1.3},"encoding":{"y":{"field":"lo","type":"quantitative"},"y2":{"field":"hi"}}},
   {"data":{"name":"pts"},"transform":[{"filter":"datum.p=='C' && datum.lo != null"}],"mark":{"type":"rule","strokeWidth":1.3,"xOffset":-3,"x2Offset":3},"encoding":{"x2":{"field":"x"},"y":{"field":"lo","type":"quantitative"}}},
   {"data":{"name":"pts"},"transform":[{"filter":"datum.p=='C' && datum.lo != null"}],"mark":{"type":"rule","strokeWidth":1.3,"xOffset":-3,"x2Offset":3},"encoding":{"x2":{"field":"x"},"y":{"field":"hi","type":"quantitative"}}},
   {"data":{"name":"pts"},"transform":[{"filter":"datum.p=='C' && datum.s=='Dd2 ᴰᵈ²'"}],"mark":{"type":"point","shape":"triangle-up","filled":true,"size":30,"opacity":1}},
   {"data":{"name":"pts"},"transform":[{"filter":"datum.p=='C' && datum.s=='Dd2 ³ᴰ⁷'"}],"mark":{"type":"point","shape":"circle","filled":true,"size":30,"opacity":1}}
  ]
 },
 {
  "width":174,"height":214,
  "resolve":{"scale":{"y":"independent"},"axis":{"y":"independent"}},
  "layer":[
   {"layer":[
    {"data":{"name":"bars"},"transform":[{"filter":"datum.p=='D'"}],"mark":{"type":"bar","stroke":"#777","strokeWidth":0.8},
     "encoding":{"x":{"field":"s","type":"nominal","scale":{"domain":["Dd2 ³ᴰ⁷","Dd2 ᴰᵈ²"],"range":[49,143],"paddingInner":0.32,"paddingOuter":0.32},"axis":{"labelAngle":-45,"labelBaseline":"middle","labelFontSize":12.5,"labelPadding":3,"tickSize":4,"title":"D","titleX":-34,"titleY":-172,"titleAngle":0,"titleAlign":"left","titleBaseline":"alphabetic","titleFontWeight":"bold","titleFontSize":13}},
      "y":{"field":"mean","type":"quantitative","scale":{"domain":[0,1500],"range":[214,71],"nice":false,"zero":false},"axis":{"orient":"left","offset":-49,"values":[0,250,500,750,1000,1250,1500],"format":"d","labelExpr":"datum.value % 500 == 0 ? datum.label : ''","title":"IC₅₀ (nM)","titleFontSize":14,"titleX":-41,"titleY":142.5}},
      "color":{"field":"s","type":"nominal","scale":{"domain":["Dd2 ³ᴰ⁷","Dd2 ᴰᵈ²"],"range":["#0d0d0d","#b8202a"]},"legend":null}}},
    {"data":{"name":"bars"},"transform":[{"filter":"datum.p=='D'"}],"mark":{"type":"rule","color":"#111","strokeWidth":1.5},
     "encoding":{"x":{"field":"s","type":"nominal"},"y":{"field":"mean","type":"quantitative"},"y2":{"field":"hi"}}},
    {"data":{"name":"bars"},"transform":[{"filter":"datum.p=='D'"}],"mark":{"type":"rule","color":"#111","strokeWidth":1.5,"xOffset":-7,"x2Offset":7},
     "encoding":{"x":{"field":"s","type":"nominal"},"x2":{"field":"s"},"y":{"field":"hi","type":"quantitative"}}}
   ]},
   {"layer":[
    {"data":{"name":"sig"},"transform":[{"filter":"datum.p=='D'"}],"mark":{"type":"rule","color":"#111","strokeWidth":1},
     "encoding":{"x":{"field":"from","type":"nominal"},"x2":{"field":"to"},"y":{"field":"y","type":"quantitative","scale":{"domain":[0,1500],"range":[214,71],"nice":false,"zero":false},"axis":{"orient":"left","offset":-49,"domain":false,"ticks":false,"labels":false,"title":"𝟯 (SNP-selecting)","titleX":37,"titleY":43,"titleAngle":0,"titleAlign":"center","titleBaseline":"alphabetic","titleFontSize":16}}}},
    {"data":{"name":"sig"},"transform":[{"filter":"datum.p=='D'"}],"mark":{"type":"text","fontSize":15,"dy":3,"baseline":"alphabetic","color":"#111"},
     "encoding":{"x":{"field":"from","type":"nominal","bandPosition":1.235},"y":{"field":"y","type":"quantitative"},"text":{"field":"label"}}}
   ]}
  ]
 },
 {
  "width":174,"height":214,
  "resolve":{"scale":{"y":"independent"},"axis":{"y":"independent"}},
  "layer":[
   {"layer":[
    {"data":{"name":"bars"},"transform":[{"filter":"datum.p=='E'"}],"mark":{"type":"bar","stroke":"#777","strokeWidth":0.8},
     "encoding":{"x":{"field":"s","type":"nominal","scale":{"domain":["Dd2 ³ᴰ⁷","Dd2 ᴰᵈ²"],"range":[47,142],"paddingInner":0.34,"paddingOuter":0.32},"axis":{"labelAngle":-45,"labelBaseline":"middle","labelFontSize":12.5,"labelPadding":3,"tickSize":4,"title":"E","titleX":-35,"titleY":-172,"titleAngle":0,"titleAlign":"left","titleBaseline":"alphabetic","titleFontWeight":"bold","titleFontSize":13}},
      "y":{"field":"mean","type":"quantitative","scale":{"domain":[0,300],"range":[214,71],"nice":false,"zero":false},"axis":{"orient":"left","offset":-47,"values":[0,50,100,150,200,250,300],"labelExpr":"datum.value % 100 == 0 ? datum.label : ''","title":"IC₅₀ (nM)","titleFontSize":14,"titleX":-37,"titleY":142.5}},
      "color":{"field":"s","type":"nominal","scale":{"domain":["Dd2 ³ᴰ⁷","Dd2 ᴰᵈ²"],"range":["#0d0d0d","#b8202a"]},"legend":null}}},
    {"data":{"name":"bars"},"transform":[{"filter":"datum.p=='E'"}],"mark":{"type":"rule","color":"#111","strokeWidth":1.5},
     "encoding":{"x":{"field":"s","type":"nominal"},"y":{"field":"mean","type":"quantitative"},"y2":{"field":"hi"}}},
    {"data":{"name":"bars"},"transform":[{"filter":"datum.p=='E'"}],"mark":{"type":"rule","color":"#111","strokeWidth":1.5,"xOffset":-7,"x2Offset":7},
     "encoding":{"x":{"field":"s","type":"nominal"},"x2":{"field":"s"},"y":{"field":"hi","type":"quantitative"}}}
   ]},
   {"layer":[
    {"data":{"name":"sig"},"transform":[{"filter":"datum.p=='E'"}],"mark":{"type":"rule","color":"#111","strokeWidth":1},
     "encoding":{"x":{"field":"from","type":"nominal"},"x2":{"field":"to"},"y":{"field":"y","type":"quantitative","scale":{"domain":[0,300],"range":[214,71],"nice":false,"zero":false},"axis":{"orient":"left","offset":-47,"domain":false,"ticks":false,"labels":false,"title":"𝟰 (SNP-selecting)","titleX":40,"titleY":43,"titleAngle":0,"titleAlign":"center","titleBaseline":"alphabetic","titleFontSize":16}}}},
    {"data":{"name":"sig"},"transform":[{"filter":"datum.p=='E'"}],"mark":{"type":"text","fontSize":15,"dy":3,"baseline":"alphabetic","color":"#111"},
     "encoding":{"x":{"field":"from","type":"nominal","bandPosition":1.258},"y":{"field":"y","type":"quantitative"},"text":{"field":"label"}}}
   ]}
  ]
 },
 {
  "width":174,"height":214,
  "resolve":{"scale":{"y":"independent"},"axis":{"y":"independent"}},
  "layer":[
   {"layer":[
    {"data":{"name":"bars"},"transform":[{"filter":"datum.p=='F'"}],"mark":{"type":"bar","stroke":"#777","strokeWidth":0.8},
     "encoding":{"x":{"field":"s","type":"nominal","scale":{"domain":["Dd2 ³ᴰ⁷","Dd2 ᴰᵈ²"],"range":[40,135],"paddingInner":0.34,"paddingOuter":0.34},"axis":{"labelAngle":-45,"labelBaseline":"middle","labelFontSize":12.5,"labelPadding":3,"tickSize":4,"title":"F","titleX":-36,"titleY":-172,"titleAngle":0,"titleAlign":"left","titleBaseline":"alphabetic","titleFontWeight":"bold","titleFontSize":13}},
      "y":{"field":"mean","type":"quantitative","scale":{"domain":[0,6],"range":[214,71],"nice":false,"zero":false},"axis":{"orient":"left","offset":-40,"values":[0,1,2,3,4,5,6],"labelExpr":"datum.value % 2 == 0 ? datum.label : ''","title":"IC₅₀ (nM)","titleFontSize":14,"titleX":-22,"titleY":142.5}},
      "color":{"field":"s","type":"nominal","scale":{"domain":["Dd2 ³ᴰ⁷","Dd2 ᴰᵈ²"],"range":["#0d0d0d","#b8202a"]},"legend":null}}},
    {"data":{"name":"bars"},"transform":[{"filter":"datum.p=='F'"}],"mark":{"type":"rule","color":"#111","strokeWidth":1.5},
     "encoding":{"x":{"field":"s","type":"nominal"},"y":{"field":"mean","type":"quantitative"},"y2":{"field":"hi"}}},
    {"data":{"name":"bars"},"transform":[{"filter":"datum.p=='F'"}],"mark":{"type":"rule","color":"#111","strokeWidth":1.5,"xOffset":-7,"x2Offset":7},
     "encoding":{"x":{"field":"s","type":"nominal"},"x2":{"field":"s"},"y":{"field":"hi","type":"quantitative"}}}
   ]},
   {"layer":[
    {"data":{"name":"sig"},"transform":[{"filter":"datum.p=='F'"}],"mark":{"type":"rule","color":"#111","strokeWidth":1},
     "encoding":{"x":{"field":"from","type":"nominal"},"x2":{"field":"to"},"y":{"field":"y","type":"quantitative","scale":{"domain":[0,6],"range":[214,71],"nice":false,"zero":false},"axis":{"orient":"left","offset":-40,"domain":false,"ticks":false,"labels":false,"title":"𝟱 (SNP-selecting)","titleX":46,"titleY":43,"titleAngle":0,"titleAlign":"center","titleBaseline":"alphabetic","titleFontSize":16}}}},
    {"data":{"name":"sig"},"transform":[{"filter":"datum.p=='F'"}],"mark":{"type":"text","fontSize":15,"dy":3,"baseline":"alphabetic","color":"#111"},
     "encoding":{"x":{"field":"from","type":"nominal","bandPosition":1.258},"y":{"field":"y","type":"quantitative"},"text":{"field":"label"}}}
   ]}
  ]
 },
 {
  "width":174,"height":117,
  "encoding":{
   "x":{"field":"x","type":"quantitative","scale":{"domain":[1,4.5],"nice":false,"zero":false},"axis":{"values":[1,2,3,4],"labelFlush":false,"labelFontSize":10,"labelPadding":2,"title":"Log₁₀ [ 𝟯 ] (nM)","titleFontSize":12.5,"titlePadding":3}},
   "y":{"field":"y","type":"quantitative","scale":{"domain":[-5.5,125],"nice":false,"zero":false},"axis":{"values":[0,50,100],"labelFontSize":10,"labelPadding":2,"title":"ABS Growth (%)","titleFontSize":11.5,"titleX":-23}},
   "color":{"field":"s","type":"nominal","scale":{"domain":["Dd2 ³ᴰ⁷","Dd2 ᴰᵈ²"],"range":["#111111","#cb2a2c"]},"legend":null}
  },
  "layer":[
   {"data":{"name":"fit"},"transform":[{"filter":"datum.p=='D'"}],"mark":{"type":"line","interpolate":"monotone","strokeWidth":1.6}},
   {"data":{"name":"pts"},"transform":[{"filter":"datum.p=='D' && datum.lo != null"}],"mark":{"type":"rule","strokeWidth":1.3},"encoding":{"y":{"field":"lo","type":"quantitative"},"y2":{"field":"hi"}}},
   {"data":{"name":"pts"},"transform":[{"filter":"datum.p=='D' && datum.lo != null"}],"mark":{"type":"rule","strokeWidth":1.3,"xOffset":-3,"x2Offset":3},"encoding":{"x2":{"field":"x"},"y":{"field":"lo","type":"quantitative"}}},
   {"data":{"name":"pts"},"transform":[{"filter":"datum.p=='D' && datum.lo != null"}],"mark":{"type":"rule","strokeWidth":1.3,"xOffset":-3,"x2Offset":3},"encoding":{"x2":{"field":"x"},"y":{"field":"hi","type":"quantitative"}}},
   {"data":{"name":"pts"},"transform":[{"filter":"datum.p=='D' && datum.s=='Dd2 ᴰᵈ²'"}],"mark":{"type":"point","shape":"triangle-up","filled":true,"size":30,"opacity":1}},
   {"data":{"name":"pts"},"transform":[{"filter":"datum.p=='D' && datum.s=='Dd2 ³ᴰ⁷'"}],"mark":{"type":"point","shape":"circle","filled":true,"size":30,"opacity":1}}
  ]
 },
 {
  "width":174,"height":117,
  "encoding":{
   "x":{"field":"x","type":"quantitative","scale":{"domain":[0.5,3.5],"nice":false,"zero":false},"axis":{"values":[1,2,3],"labelFlush":false,"labelFontSize":10,"labelPadding":2,"title":"Log₁₀ [ 𝟰 ] (nM)","titleFontSize":12.5,"titlePadding":3}},
   "y":{"field":"y","type":"quantitative","scale":{"domain":[-5.5,125],"nice":false,"zero":false},"axis":{"values":[0,50,100],"labelFontSize":10,"labelPadding":2,"title":"ABS Growth (%)","titleFontSize":11.5,"titleX":-24}},
   "color":{"field":"s","type":"nominal","scale":{"domain":["Dd2 ³ᴰ⁷","Dd2 ᴰᵈ²"],"range":["#111111","#cb2a2c"]},"legend":null}
  },
  "layer":[
   {"data":{"name":"fit"},"transform":[{"filter":"datum.p=='E'"}],"mark":{"type":"line","interpolate":"monotone","strokeWidth":1.6}},
   {"data":{"name":"pts"},"transform":[{"filter":"datum.p=='E' && datum.lo != null"}],"mark":{"type":"rule","strokeWidth":1.3},"encoding":{"y":{"field":"lo","type":"quantitative"},"y2":{"field":"hi"}}},
   {"data":{"name":"pts"},"transform":[{"filter":"datum.p=='E' && datum.lo != null"}],"mark":{"type":"rule","strokeWidth":1.3,"xOffset":-3,"x2Offset":3},"encoding":{"x2":{"field":"x"},"y":{"field":"lo","type":"quantitative"}}},
   {"data":{"name":"pts"},"transform":[{"filter":"datum.p=='E' && datum.lo != null"}],"mark":{"type":"rule","strokeWidth":1.3,"xOffset":-3,"x2Offset":3},"encoding":{"x2":{"field":"x"},"y":{"field":"hi","type":"quantitative"}}},
   {"data":{"name":"pts"},"transform":[{"filter":"datum.p=='E' && datum.s=='Dd2 ᴰᵈ²'"}],"mark":{"type":"point","shape":"triangle-up","filled":true,"size":30,"opacity":1}},
   {"data":{"name":"pts"},"transform":[{"filter":"datum.p=='E' && datum.s=='Dd2 ³ᴰ⁷'"}],"mark":{"type":"point","shape":"circle","filled":true,"size":30,"opacity":1}}
  ]
 },
 {
  "width":174,"height":117,
  "encoding":{
   "x":{"field":"x","type":"quantitative","scale":{"domain":[-1,2.5],"nice":false,"zero":false},"axis":{"values":[-1,0,1,2],"labelFlush":false,"labelFontSize":10,"labelPadding":2,"title":"Log₁₀ [ 𝟱 ] (nM)","titleFontSize":12.5,"titlePadding":3}},
   "y":{"field":"y","type":"quantitative","scale":{"domain":[-5.5,125],"nice":false,"zero":false},"axis":{"values":[0,50,100],"labelFontSize":10,"labelPadding":2,"title":"ABS Growth (%)","titleFontSize":11.5,"titleX":-22}},
   "color":{"field":"s","type":"nominal","scale":{"domain":["Dd2 ³ᴰ⁷","Dd2 ᴰᵈ²"],"range":["#111111","#cb2a2c"]},"legend":{"orient":"none","legendX":149,"legendY":13,"title":null,"symbolSize":400,"labelFontSize":14,"labelColor":"#111","labelOffset":8,"rowPadding":5,"padding":0,"encode":{"symbols":{"update":{"shape":{"signal":"datum.index === 0 ? 'M-1,0H1M0.3,0A0.3,0.3 0 1 1 -0.3,0A0.3,0.3 0 1 1 0.3,0Z' : 'M-1,0H1M0,-0.36L0.33,0.22L-0.33,0.22Z'"},"fill":{"signal":"datum.index === 0 ? '#111111' : '#cb2a2c'"},"stroke":{"signal":"datum.index === 0 ? '#111111' : '#cb2a2c'"},"strokeWidth":{"value":1.6},"opacity":{"value":1}}}}}}
  },
  "layer":[
   {"data":{"name":"fit"},"transform":[{"filter":"datum.p=='F'"}],"mark":{"type":"line","interpolate":"monotone","strokeWidth":1.6}},
   {"data":{"name":"pts"},"transform":[{"filter":"datum.p=='F' && datum.lo != null"}],"mark":{"type":"rule","strokeWidth":1.3},"encoding":{"y":{"field":"lo","type":"quantitative"},"y2":{"field":"hi"}}},
   {"data":{"name":"pts"},"transform":[{"filter":"datum.p=='F' && datum.lo != null"}],"mark":{"type":"rule","strokeWidth":1.3,"xOffset":-3,"x2Offset":3},"encoding":{"x2":{"field":"x"},"y":{"field":"lo","type":"quantitative"}}},
   {"data":{"name":"pts"},"transform":[{"filter":"datum.p=='F' && datum.lo != null"}],"mark":{"type":"rule","strokeWidth":1.3,"xOffset":-3,"x2Offset":3},"encoding":{"x2":{"field":"x"},"y":{"field":"hi","type":"quantitative"}}},
   {"data":{"name":"pts"},"transform":[{"filter":"datum.p=='F' && datum.s=='Dd2 ᴰᵈ²'"}],"mark":{"type":"point","shape":"triangle-up","filled":true,"size":30,"opacity":1}},
   {"data":{"name":"pts"},"transform":[{"filter":"datum.p=='F' && datum.s=='Dd2 ³ᴰ⁷'"}],"mark":{"type":"point","shape":"circle","filled":true,"size":30,"opacity":1}}
  ]
 }
]
}
